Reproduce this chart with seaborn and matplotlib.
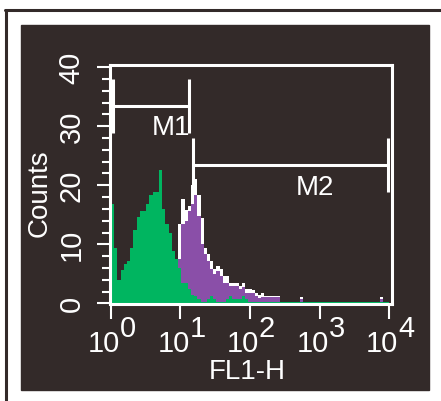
import numpy as np
import pandas as pd
import matplotlib
matplotlib.use("Agg")
import matplotlib.pyplot as plt
import seaborn as sns
from matplotlib.patches import Rectangle
from matplotlib.lines import Line2D
from matplotlib.ticker import LogLocator, NullFormatter, MultipleLocator
from matplotlib.transforms import ScaledTranslation

# FL1-H histogram: 87 log-spaced channels from 10^0 to 10^4
n_bins = 87
log_range = (0, 4.002)

green_counts = [
    16.8, 9.3, 3.9, 5.6, 6.6, 7.1, 9.3, 12.5, 14.6, 15.6,
    15.6, 16.8, 18.3, 18.8, 18.9, 22.6, 16.0, 13.4, 11.9, 8.8,
    7.6, 6.0, 3.4, 3.4, 2.4, 1.4, 1.2, 0.7, 0.3, 0.3,
    0.7, 1.2, 0.7, 0.3, 0.3, 0.3, 0.7, 1.2, 0.7, 0.7,
    0.7, 1.2, 0.7, 0.3, 0.3, 0.3, 0.3, 0.3, 0.3, 0.3,
    0.3, 0.3, 0.3, 0.3, 0.3, 0.3, 0.3, 0.3, 0.3, 0.3,
    0.3, 0.3, 0.3, 0.3, 0.3, 0.3, 0.3, 0.3, 0.3, 0.3,
    0.3, 0.3, 0.3, 0.3, 0.3, 0.3, 0.3, 0.3, 0.3, 0.3,
    0.3, 0.3, 0.3, 0.3, 0.3, 0.3, 0.3,
]
purple_counts = [
    0, 0, 0, 0, 0, 0, 0, 0, 0, 0,
    0, 0, 0, 0, 0, 0, 0, 0, 0, 0,
    0, 7.6, 13.5, 14.0, 15.6, 16.8, 18.3, 14.8, 10.0, 8.3,
    7.2, 5.8, 4.9, 5.5, 4.6, 3.5, 3.5, 2.9, 2.9, 2.9,
    2.4, 2.7, 1.8, 1.8, 1.8, 1.2, 1.0, 1.1, 1.1, 1.1,
    1.1, 1.1, 1.1, 0, 0, 0, 0, 0, 0, 0.7,
    0, 0, 0, 0, 0, 0, 0, 0, 0, 0,
    0, 0, 0, 0, 0, 0, 0, 0, 0, 0,
    0, 0, 0, 0, 0.7, 0, 0,
]
outline_counts = [
    0, 0, 0, 0, 0, 0, 0, 0, 0, 0,
    0, 0, 0, 0, 0, 0, 0, 0, 0, 0,
    0, 13.5, 17.7, 15.8, 16.5, 20.0, 21.0, 18.3, 14.5, 9.4,
    8.3, 7.2, 5.8, 6.3, 5.8, 4.6, 4.6, 3.5, 3.5, 3.5,
    3.0, 3.5, 2.4, 2.4, 2.2, 1.8, 1.5, 1.8, 1.2, 1.2,
    1.2, 1.2, 1.2, 0, 0, 0, 0, 0, 0, 1.1,
    0, 0, 0, 0, 0, 0, 0, 0, 0, 0,
    0, 0, 0, 0, 0, 0, 0, 0, 0, 0,
    0, 0, 0, 0, 1.1, 0, 0,
]

x_ticks = [1, 10, 100, 1000, 10000]
x_tick_exponents = ["0", "1", "2", "3", "4"]
y_ticks = [0, 10, 20, 30, 40]

# marker gates: start, end, height (counts)
m1_gate = [1.07, 13.3, 33.4]
m2_gate = [15.1, 9800, 23.4]
m1_label = [7.3, 29.9]
m2_label = [861, 19.7]

DARK = "#332a29"
GREEN = "#00b560"
PURPLE = "#8a4fa8"
NUM_FONT = ["Liberation Sans Narrow", "Liberation Sans", "DejaVu Sans"]

edges = np.linspace(log_range[0], log_range[1], n_bins + 1)
centers = 10 ** ((edges[:-1] + edges[1:]) / 2)
df = pd.DataFrame({"FL1": centers, "green": green_counts,
                   "purple": purple_counts, "outline": outline_counts})

sns.set_theme(style="ticks")
plt.rcParams["font.family"] = ["Liberation Sans", "DejaVu Sans"]

fig = plt.figure(figsize=(4.41, 4.02), dpi=100, facecolor="white")

# dark panel and frame lines
fig.patches.append(Rectangle((21 / 441, 11 / 402), 408 / 441, 365 / 402,
                             transform=fig.transFigure, color=DARK, zorder=-5))
fig.lines.append(Line2D([5 / 441, 1], [391 / 402, 391 / 402], transform=fig.transFigure,
                        color=DARK, lw=2.2, zorder=-5))
fig.lines.append(Line2D([6 / 441, 6 / 441], [0, 391 / 402], transform=fig.transFigure,
                        color=DARK, lw=2.2, zorder=-5))

ax = fig.add_axes([110 / 441, 97 / 402, 282 / 441, 239 / 402])
ax.set_facecolor(DARK)

for col, c in [("outline", "white"), ("purple", PURPLE), ("green", GREEN)]:
    sns.histplot(data=df, x="FL1", weights=col, bins=n_bins, binrange=log_range,
                 log_scale=True, element="step", fill=True, color=c, alpha=1,
                 linewidth=0, ax=ax)

ax.set_xlim(10 ** -0.014, 10 ** 4.043)
ax.set_ylim(-0.1, 40.35)

# gates
for gate in (m1_gate, m2_gate):
    ax.hlines(gate[2], gate[0], gate[1], color="white", lw=2.2)
    ax.vlines([gate[0], gate[1]], gate[2] - 4.6, gate[2] + 4.6, color="white", lw=2.2)
ax.text(m1_label[0], m1_label[1], "M1", color="white", fontsize=20, ha="center", va="center")
ax.text(m2_label[0], m2_label[1], "M2", color="white", fontsize=20, ha="center", va="center")

for s in ax.spines.values():
    s.set_color("white")
    s.set_linewidth(2.2)

ax.set_xticks(x_ticks, labels=["10"] * len(x_ticks))
ax.xaxis.set_minor_locator(LogLocator(base=10, subs=np.arange(2, 10)))
ax.xaxis.set_minor_formatter(NullFormatter())
ax.set_yticks(y_ticks, labels=[str(v) for v in y_ticks])
ax.yaxis.set_minor_locator(MultipleLocator(2))

ax.tick_params(axis="x", which="major", length=11, width=1.5, color="white",
               labelcolor="white", labelsize=21, pad=7, direction="out")
ax.tick_params(axis="x", which="minor", length=6.5, width=1.5, color="white", direction="out")
ax.tick_params(axis="y", which="major", length=9.5, width=1.5, color="white",
               labelcolor="white", labelsize=21, pad=8, direction="out", labelrotation=90)
ax.tick_params(axis="y", which="minor", length=6, width=1.5, color="white", direction="out")
for lab in ax.get_yticklabels():
    lab.set_va("center")
    lab.set_family(NUM_FONT)
for lab in ax.get_xticklabels():
    lab.set_family(NUM_FONT)
    lab.set_transform(lab.get_transform() + ScaledTranslation(-7 / 100, 0, fig.dpi_scale_trans))

for val, e in zip(x_ticks, x_tick_exponents):
    ax.annotate(e, xy=(val, 0), xycoords=("data", "axes fraction"), xytext=(17, -24),
                textcoords="offset pixels", color="white", fontsize=21, family=NUM_FONT,
                ha="center", va="center", annotation_clip=False)

ax.set_xlabel("FL1-H", color="white", fontsize=20)
ax.set_ylabel("Counts", color="white", fontsize=20)
ax.xaxis.set_label_coords(0.4876, -0.225)
ax.yaxis.set_label_coords(-0.205, 0.469)

fig.savefig("out.png", dpi=100, facecolor="white")
